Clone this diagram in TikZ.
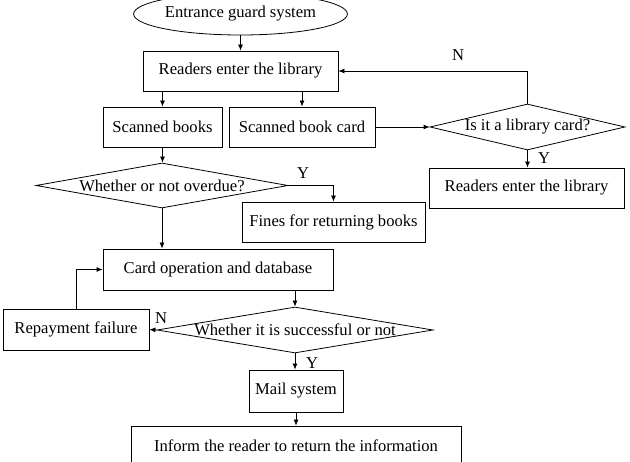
\documentclass[tikz,border=0pt]{standalone}
\usepackage{fontspec}
\setmainfont{Liberation Serif}
\usetikzlibrary{shapes.geometric,arrows.meta}
\begin{document}
\begin{tikzpicture}[x=1pt,y=-1pt,
  font=\fontsize{16.6}{19}\selectfont,
  box/.style={draw,line width=0.8pt,rectangle,inner sep=0pt,align=center},
  diam/.style={draw,line width=0.8pt,diamond,inner sep=0pt,shape aspect=1},
  oval/.style={draw,line width=0.8pt,ellipse,inner sep=0pt},
  arr/.style={line width=0.8pt,-{Latex[length=6pt,width=5pt]}},
  lbl/.style={inner sep=0pt}]
\clip (0,0) rectangle (630,462);
\fill[white] (0,0) rectangle (630,462);
% nodes
\node[oval,minimum width=184pt,minimum height=42pt] (ell) at (240.5,14) {Entrance guard system};
\node[box,minimum width=195pt,minimum height=40pt] (enterA) at (240.5,71) {Readers enter the library};
\node[box,minimum width=119pt,minimum height=40pt] (books) at (162.5,127) {Scanned books};
\node[box,minimum width=146pt,minimum height=40pt] (card) at (302,127) {Scanned book card};
\node[diam,minimum width=195pt,minimum height=46pt] (iscard) at (527.5,127) {\makebox[0pt]{Is it a library card?}};
\node[box,minimum width=195pt,minimum height=40pt] (enterB) at (526.5,188) {Readers enter the library};
\node[diam,minimum width=252pt,minimum height=45pt] (overdue) at (162,185.5) {\makebox[0pt]{Whether or not overdue?}};
\node[box,minimum width=183pt,minimum height=40pt] (fines) at (333.5,222) {Fines for returning books};
\node[box,minimum width=230pt,minimum height=41pt] (cardop) at (218,269.5) {Card operation and database};
\node[diam,minimum width=276pt,minimum height=46pt] (success) at (295,330) {\makebox[0pt]{Whether it is successful or not}};
\node[box,minimum width=146pt,minimum height=41pt] (repay) at (76,329.5) {Repayment failure};
\node[box,minimum width=94pt,minimum height=42pt] (mail) at (296,391) {Mail system};
\node[box,minimum width=330pt,minimum height=40pt] (inform) at (296,446) {Inform the reader to return the information};
% labels
\node[lbl] (nA) at (458,55) {N};
\node[lbl] (yA) at (544,158) {Y};
\node[lbl] (yB) at (303,173) {Y};
\node[lbl] (nB) at (161,318) {N};
\node[lbl] (yC) at (312,363) {Y};
% connectors
\draw[arr] (ell.south) -- (enterA.north);
\draw[arr] (books.north |- enterA.south) -- (books.north);
\draw[arr] (card.north |- enterA.south) -- (card.north);
\draw[arr] (card.east) -- (iscard.west);
\draw[arr] (iscard.north) |- (enterA.east);
\draw[arr] (iscard.south) -- (iscard.south |- enterB.north);
\draw[arr] (books.south) -- (books.south |- overdue.north);
\draw[arr] (overdue.east) -| (fines.north);
\draw[arr] (overdue.south) -- (overdue.south |- cardop.north);
\draw[arr] (success.north |- cardop.south) -- (success.north);
\draw[arr] (success.west) -- (repay.east);
\draw[arr] (repay.north) |- (cardop.west);
\draw[arr] (success.south) -- (success.south |- mail.north);
\draw[arr] (mail.south) -- (inform.north);
\end{tikzpicture}
\end{document}
